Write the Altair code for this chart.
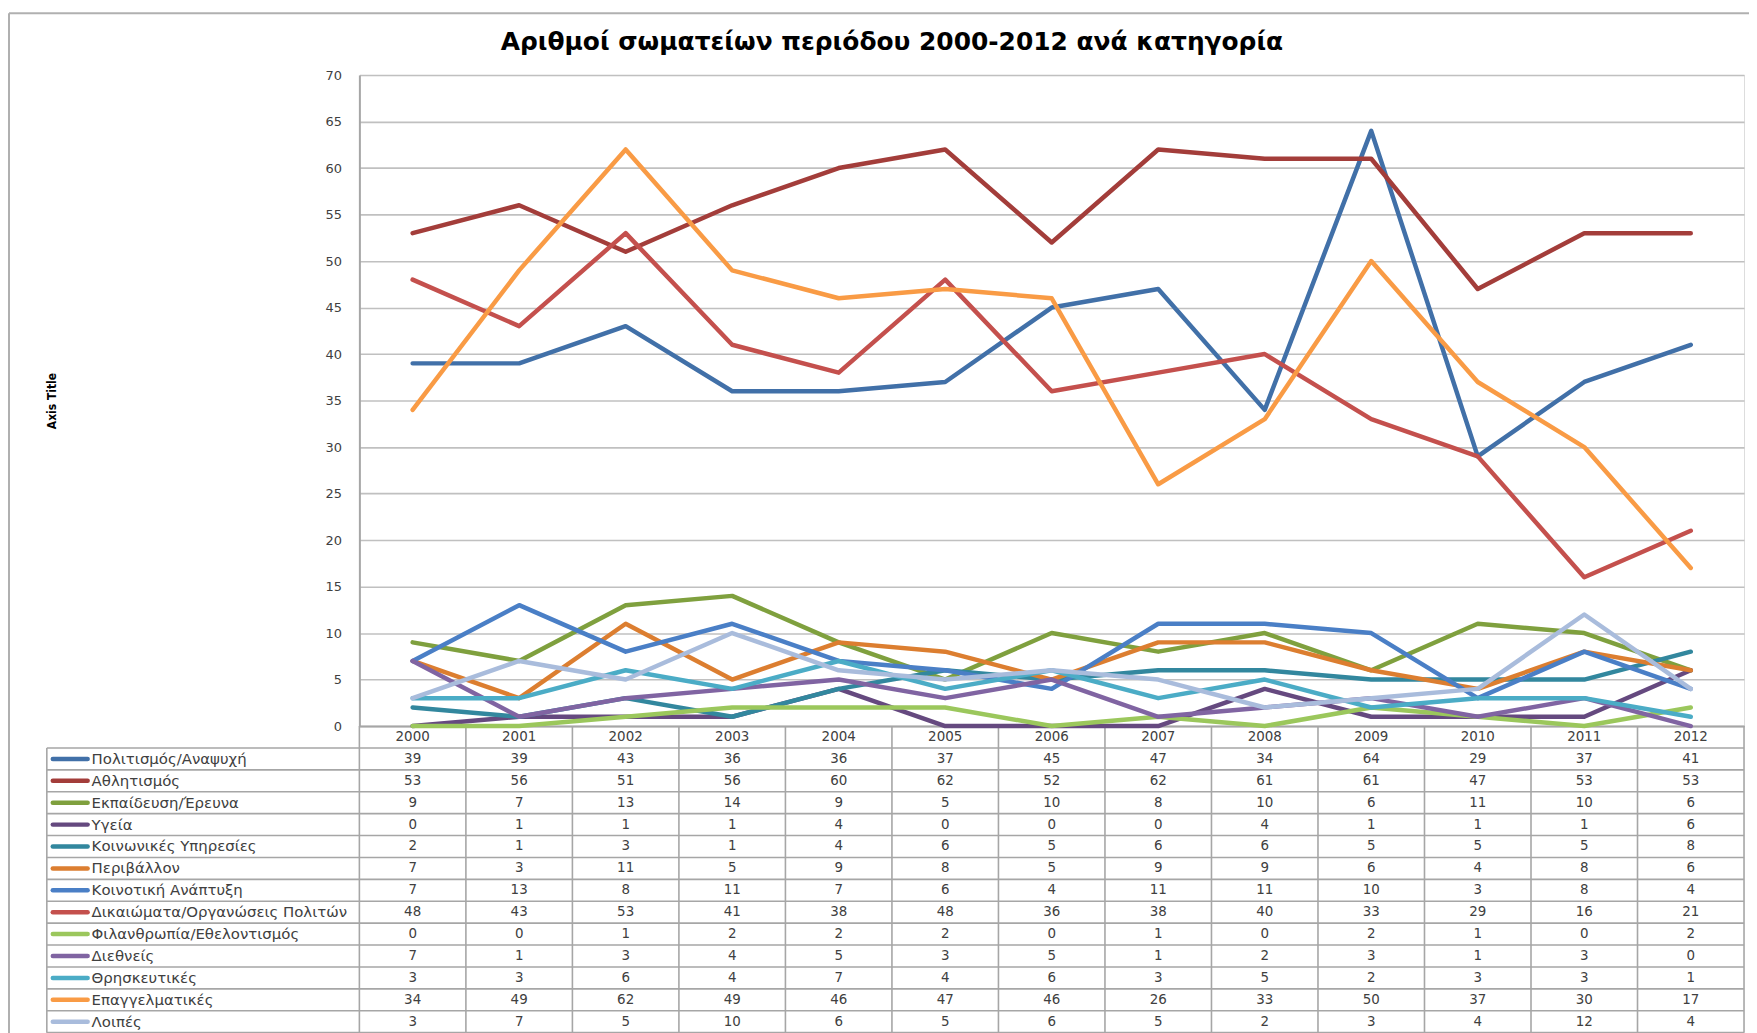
import altair as alt
import pandas as pd

years = [str(y) for y in range(2000, 2013)]

series = [
    "Πολιτισμός/Αναψυχή",
    "Αθλητισμός",
    "Εκπαίδευση/Έρευνα",
    "Υγεία",
    "Κοινωνικές Υπηρεσίες",
    "Περιβάλλον",
    "Κοινοτική Ανάπτυξη",
    "Δικαιώματα/Οργανώσεις Πολιτών",
    "Φιλανθρωπία/Εθελοντισμός",
    "Διεθνείς",
    "Θρησκευτικές",
    "Επαγγελματικές",
    "Λοιπές",
]

colors = [
    "#4170A8", "#A33D3A", "#7FA03E", "#65497F", "#32879E", "#DC7E30",
    "#4A7FC6", "#C4504D", "#9BC75C", "#8064A2", "#4BACC6", "#F99B45",
    "#A9BCDC",
]

politismos = [39, 39, 43, 36, 36, 37, 45, 47, 34, 64, 29, 37, 41]
athlitismos = [53, 56, 51, 56, 60, 62, 52, 62, 61, 61, 47, 53, 53]
ekpaideusi = [9, 7, 13, 14, 9, 5, 10, 8, 10, 6, 11, 10, 6]
ygeia = [0, 1, 1, 1, 4, 0, 0, 0, 4, 1, 1, 1, 6]
koinonikes = [2, 1, 3, 1, 4, 6, 5, 6, 6, 5, 5, 5, 8]
perivallon = [7, 3, 11, 5, 9, 8, 5, 9, 9, 6, 4, 8, 6]
koinotiki = [7, 13, 8, 11, 7, 6, 4, 11, 11, 10, 3, 8, 4]
dikaiomata = [48, 43, 53, 41, 38, 48, 36, 38, 40, 33, 29, 16, 21]
filanthropia = [0, 0, 1, 2, 2, 2, 0, 1, 0, 2, 1, 0, 2]
diethneis = [7, 1, 3, 4, 5, 3, 5, 1, 2, 3, 1, 3, 0]
thriskeutikes = [3, 3, 6, 4, 7, 4, 6, 3, 5, 2, 3, 3, 1]
epaggelmatikes = [34, 49, 62, 49, 46, 47, 46, 26, 33, 50, 37, 30, 17]
loipes = [3, 7, 5, 10, 6, 5, 6, 5, 2, 3, 4, 12, 4]

all_values = [politismos, athlitismos, ekpaideusi, ygeia, koinonikes, perivallon,
              koinotiki, dikaiomata, filanthropia, diethneis, thriskeutikes,
              epaggelmatikes, loipes]

y_ticks = list(range(0, 71, 5))
title_text = "Αριθμοί σωματείων περιόδου 2000-2012 ανά κατηγορία"

# ---- layout constants (pixels relative to plot area) ----
W = 1391
H = 654
NROWS = len(series)
ROW_H = 22.0
TABLE_BOTTOM = H + (NROWS + 1) * ROW_H
LABEL_COL_X = -314
PAD_LEFT = 353
PAD_TOP = 65

rows = []
for si, (name, vals) in enumerate(zip(series, all_values)):
    for yr, v in zip(years, vals):
        rows.append({"series": name, "sidx": si, "year": yr, "value": v,
                     "rowc": si + 0.5})
df = pd.DataFrame(rows)

ser_df = pd.DataFrame({"series": series, "rowc": [i + 0.5 for i in range(NROWS)]})
year_df = pd.DataFrame({"year": years, "rowc": [-0.5] * len(years),
                        "top": [-1] * len(years), "bot": [NROWS] * len(years)})
hline_df = pd.DataFrame({"row": list(range(0, NROWS + 1))})
border_df = pd.DataFrame({"top": [0], "bot": [NROWS]})
title_df = pd.DataFrame({"t": [title_text]})

xscale = alt.Scale(type="band", domain=years, paddingInner=0, paddingOuter=0)
yscale = alt.Scale(domain=[0, 70], nice=False)
tscale = alt.Scale(domain=[-1, NROWS], range=[H, TABLE_BOTTOM], nice=False, zero=False)
cscale = alt.Scale(domain=series, range=colors)

TXT = "#404040"
GRID = "#C0C0C0"
TLINE = "#A6A6A6"

lines = alt.Chart(df).mark_line(
    strokeWidth=4.5, strokeCap="round", strokeJoin="round"
).encode(
    x=alt.X("year:N", scale=xscale, bandPosition=0.5,
            axis=alt.Axis(labels=False, ticks=False, grid=False, title=None,
                          domainColor=TLINE, domainWidth=2)),
    y=alt.Y("value:Q", scale=yscale,
            axis=alt.Axis(orient="left", values=y_ticks, grid=True, gridColor=GRID,
                          gridWidth=1.6, domainColor=TLINE, domainWidth=2, ticks=False,
                          labelPadding=18, labelFont="DejaVu Sans", labelFontSize=13,
                          labelColor=TXT, labelFlush=False,
                          title="Axis Title",
                          titleFont="DejaVu Sans Condensed, Roboto Condensed, Roboto, sans-serif",
                          titleFontSize=12, titleFontWeight="bold", titleColor="#000000",
                          titleAngle=270, titleX=-302, titleY=H / 2,
                          titleBaseline="bottom", titleAlign="center")),
    color=alt.Color("series:N", scale=cscale, legend=None),
    detail="sidx:O",
)

# table vertical lines (column boundaries)
vlines_left = alt.Chart(year_df).mark_rule(color=TLINE, strokeWidth=1.6).encode(
    x=alt.X("year:N", scale=xscale, bandPosition=0),
    y=alt.Y("top:Q", scale=tscale, axis=None),
    y2="bot:Q",
)
vline_right = alt.Chart(year_df.tail(1)).mark_rule(color=TLINE, strokeWidth=1.6).encode(
    x=alt.X("year:N", scale=xscale, bandPosition=1),
    y=alt.Y("top:Q", scale=tscale, axis=None),
    y2="bot:Q",
)
# table horizontal lines
hlines = alt.Chart(hline_df).mark_rule(color=TLINE, strokeWidth=1.6).encode(
    y=alt.Y("row:Q", scale=tscale, axis=None),
    x=alt.value(LABEL_COL_X),
    x2=alt.value(W),
)
# left border of label column
lborder = alt.Chart(border_df).mark_rule(color=TLINE, strokeWidth=1.6).encode(
    x=alt.value(LABEL_COL_X),
    y=alt.Y("top:Q", scale=tscale, axis=None),
    y2="bot:Q",
)

year_text = alt.Chart(year_df).mark_text(
    font="DejaVu Sans", fontSize=13.5, color=TXT, baseline="middle", align="center"
).encode(
    x=alt.X("year:N", scale=xscale, bandPosition=0.5),
    y=alt.Y("rowc:Q", scale=tscale, axis=None),
    text="year:N",
)

value_text = alt.Chart(df).mark_text(
    font="DejaVu Sans", fontSize=13.5, color=TXT, baseline="middle", align="center"
).encode(
    x=alt.X("year:N", scale=xscale, bandPosition=0.5),
    y=alt.Y("rowc:Q", scale=tscale, axis=None),
    text="value:Q",
)

swatches = alt.Chart(ser_df).mark_rule(strokeWidth=4.5, strokeCap="round").encode(
    x=alt.value(-308),
    x2=alt.value(-273),
    y=alt.Y("rowc:Q", scale=tscale, axis=None),
    color=alt.Color("series:N", scale=cscale, legend=None),
)

labels = alt.Chart(ser_df).mark_text(
    font="DejaVu Sans", fontSize=15, color=TXT, baseline="middle", align="left"
).encode(
    x=alt.value(-269),
    y=alt.Y("rowc:Q", scale=tscale, axis=None),
    text="series:N",
)

# outer chart frame (left and top edges)
frame_left = alt.Chart(border_df).mark_rule(color="#B0B0B0", strokeWidth=2).encode(
    x=alt.value(-352), y=alt.value(-62), y2=alt.value(TABLE_BOTTOM + 20)
)
frame_top = alt.Chart(border_df).mark_rule(color="#B0B0B0", strokeWidth=2).encode(
    x=alt.value(-352), x2=alt.value(W + 6), y=alt.value(-62)
)

title = alt.Chart(title_df).mark_text(
    font="DejaVu Sans", fontSize=25, fontWeight="bold", color="#000000",
    align="center", baseline="alphabetic"
).encode(
    x=alt.value(535), y=alt.value(-25), text="t:N"
)

chart = alt.layer(
    frame_left, frame_top, title,
    vlines_left, vline_right, hlines, lborder,
    lines, year_text, value_text, swatches, labels,
).resolve_scale(y="independent").properties(
    width=W,
    height=H,
    autosize=alt.AutoSizeParams(type="none"),
    padding={"left": PAD_LEFT, "top": PAD_TOP, "right": 5, "bottom": 312},
).configure_view(stroke=None).configure(background="white")

chart.save("out.html", embed_options={"renderer": "svg", "actions": False})
